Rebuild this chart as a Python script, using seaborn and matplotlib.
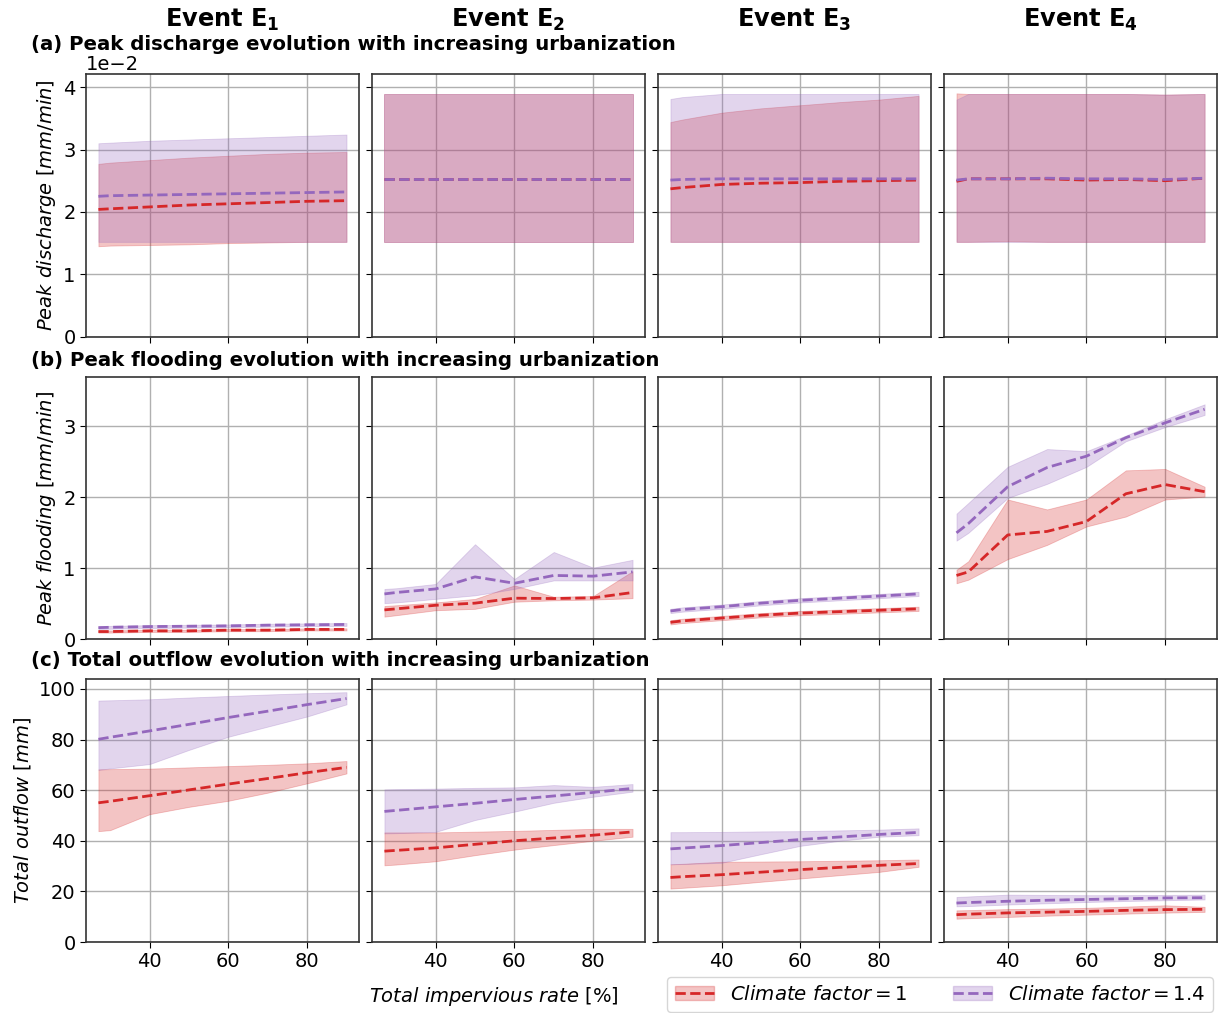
import numpy as np
import pandas as pd
import matplotlib
matplotlib.use("Agg")
import matplotlib.pyplot as plt
import seaborn as sns
from matplotlib.lines import Line2D
from matplotlib.patches import Patch

# ---------------------------------------------------------------------------
# Data: impervious rate [%] and, for each event (rows E1..E4), the lower bound,
# central value and upper bound of the scenario ensemble.
# ---------------------------------------------------------------------------
impervious = [27, 30, 40, 50, 60, 70, 80, 90]
events = ["E1", "E2", "E3", "E4"]
factor_labels = [r"$Climate\ factor = 1$", r"$Climate\ factor = 1.4$"]

# (a) Peak discharge [mm/min]
discharge_cf1_low = [
    [0.0145, 0.0146, 0.0147, 0.0148, 0.0150, 0.0151, 0.0152, 0.0152],
    [0.0152, 0.0152, 0.0152, 0.0152, 0.0152, 0.0152, 0.0152, 0.0152],
    [0.0152, 0.0152, 0.0152, 0.0152, 0.0152, 0.0152, 0.0152, 0.0152],
    [0.0152, 0.0152, 0.0153, 0.0152, 0.0152, 0.0152, 0.0152, 0.0152],
]
discharge_cf1_mid = [
    [0.0204, 0.0205, 0.0208, 0.0211, 0.0213, 0.0215, 0.0217, 0.0218],
    [0.0253, 0.0253, 0.0253, 0.0253, 0.0253, 0.0253, 0.0253, 0.0253],
    [0.0237, 0.0239, 0.0244, 0.0246, 0.0247, 0.0249, 0.0250, 0.0251],
    [0.0249, 0.0253, 0.0253, 0.0253, 0.0251, 0.0252, 0.0250, 0.0254],
]
discharge_cf1_high = [
    [0.0277, 0.0279, 0.0283, 0.0287, 0.0290, 0.0293, 0.0295, 0.0296],
    [0.0389, 0.0389, 0.0389, 0.0389, 0.0389, 0.0389, 0.0389, 0.0389],
    [0.0344, 0.0348, 0.0359, 0.0366, 0.0371, 0.0376, 0.0380, 0.0386],
    [0.0390, 0.0389, 0.0389, 0.0389, 0.0389, 0.0389, 0.0388, 0.0389],
]
discharge_cf14_low = [
    [0.0152, 0.0152, 0.0152, 0.0152, 0.0152, 0.0152, 0.0152, 0.0152],
    [0.0152, 0.0152, 0.0152, 0.0152, 0.0152, 0.0152, 0.0152, 0.0152],
    [0.0152, 0.0152, 0.0152, 0.0152, 0.0152, 0.0152, 0.0152, 0.0152],
    [0.0152, 0.0152, 0.0152, 0.0152, 0.0152, 0.0152, 0.0152, 0.0152],
]
discharge_cf14_mid = [
    [0.0225, 0.0226, 0.0227, 0.0228, 0.0229, 0.0230, 0.0231, 0.0232],
    [0.0253, 0.0253, 0.0253, 0.0253, 0.0253, 0.0253, 0.0253, 0.0253],
    [0.0251, 0.0252, 0.0253, 0.0253, 0.0253, 0.0253, 0.0253, 0.0253],
    [0.0251, 0.0253, 0.0253, 0.0254, 0.0253, 0.0253, 0.0252, 0.0254],
]
discharge_cf14_high = [
    [0.0310, 0.0311, 0.0314, 0.0316, 0.0318, 0.0320, 0.0322, 0.0324],
    [0.0389, 0.0389, 0.0389, 0.0389, 0.0389, 0.0389, 0.0389, 0.0389],
    [0.0381, 0.0384, 0.0389, 0.0389, 0.0389, 0.0389, 0.0389, 0.0389],
    [0.0380, 0.0389, 0.0389, 0.0389, 0.0389, 0.0389, 0.0388, 0.0389],
]

# (b) Peak flooding [mm/min]
flooding_cf1_low = [
    [0.095, 0.095, 0.105, 0.105, 0.115, 0.115, 0.125, 0.125],
    [0.32, 0.34, 0.41, 0.43, 0.53, 0.55, 0.56, 0.58],
    [0.21, 0.23, 0.27, 0.31, 0.34, 0.36, 0.38, 0.40],
    [0.79, 0.84, 1.13, 1.33, 1.59, 1.73, 1.97, 2.01],
]
flooding_cf1_mid = [
    [0.11, 0.11, 0.12, 0.12, 0.13, 0.13, 0.14, 0.14],
    [0.415, 0.43, 0.48, 0.51, 0.58, 0.575, 0.585, 0.66],
    [0.24, 0.26, 0.30, 0.34, 0.37, 0.39, 0.41, 0.43],
    [0.90, 0.95, 1.47, 1.52, 1.66, 2.05, 2.18, 2.08],
]
flooding_cf1_high = [
    [0.125, 0.125, 0.135, 0.135, 0.145, 0.145, 0.155, 0.155],
    [0.47, 0.48, 0.52, 0.57, 0.76, 0.60, 0.61, 0.96],
    [0.27, 0.29, 0.33, 0.37, 0.40, 0.42, 0.44, 0.46],
    [0.98, 1.10, 1.97, 1.83, 1.97, 2.38, 2.40, 2.15],
]
flooding_cf14_low = [
    [0.145, 0.15, 0.16, 0.165, 0.17, 0.18, 0.185, 0.19],
    [0.51, 0.52, 0.57, 0.62, 0.71, 0.83, 0.83, 0.83],
    [0.37, 0.39, 0.43, 0.48, 0.52, 0.55, 0.58, 0.61],
    [1.39, 1.50, 1.99, 2.19, 2.43, 2.79, 2.99, 3.16],
]
flooding_cf14_mid = [
    [0.165, 0.17, 0.18, 0.185, 0.19, 0.20, 0.205, 0.21],
    [0.64, 0.66, 0.71, 0.88, 0.79, 0.90, 0.89, 0.95],
    [0.40, 0.42, 0.46, 0.51, 0.55, 0.58, 0.61, 0.64],
    [1.50, 1.63, 2.15, 2.42, 2.58, 2.84, 3.05, 3.24],
]
flooding_cf14_high = [
    [0.185, 0.19, 0.20, 0.205, 0.21, 0.22, 0.225, 0.23],
    [0.71, 0.72, 0.78, 1.34, 0.85, 1.23, 1.01, 1.12],
    [0.43, 0.45, 0.49, 0.54, 0.58, 0.61, 0.64, 0.67],
    [1.77, 1.92, 2.43, 2.68, 2.65, 2.87, 3.10, 3.31],
]

# (c) Total outflow [mm]
outflow_cf1_low = [
    [43.8, 44.2, 50.5, 53.4, 55.8, 59.0, 62.7, 66.6],
    [30.3, 30.6, 31.9, 34.3, 36.5, 38.3, 40.0, 41.6],
    [21.1, 21.4, 22.4, 23.8, 25.1, 26.4, 27.7, 29.7],
    [9.2, 9.4, 9.9, 10.4, 10.8, 11.2, 11.6, 11.9],
]
outflow_cf1_mid = [
    [55.0, 55.6, 57.8, 60.1, 62.4, 64.6, 66.9, 69.0],
    [35.9, 36.2, 37.2, 38.6, 40.0, 41.1, 42.2, 43.5],
    [25.5, 25.8, 26.6, 27.6, 28.6, 29.5, 30.3, 31.0],
    [10.8, 11.0, 11.5, 11.8, 12.1, 12.5, 12.8, 12.9],
]
outflow_cf1_high = [
    [68.2, 68.3, 68.5, 69.0, 69.5, 70.0, 70.6, 71.5],
    [43.3, 43.3, 43.3, 43.6, 43.9, 44.3, 44.7, 44.7],
    [30.7, 30.9, 31.7, 31.8, 31.9, 32.1, 32.3, 32.6],
    [12.5, 12.6, 13.0, 13.2, 13.5, 14.0, 14.5, 13.9],
]
outflow_cf14_low = [
    [68.0, 68.6, 70.3, 75.9, 81.1, 85.1, 89.1, 93.9],
    [42.9, 43.0, 43.5, 48.2, 51.5, 55.0, 57.4, 59.4],
    [30.7, 30.8, 31.3, 34.7, 38.0, 40.0, 41.6, 42.2],
    [14.1, 14.2, 14.8, 15.3, 15.8, 16.2, 16.5, 16.8],
]
outflow_cf14_mid = [
    [80.1, 80.9, 83.4, 86.0, 88.7, 91.2, 93.8, 96.2],
    [51.6, 52.0, 53.4, 54.8, 56.3, 57.7, 59.1, 60.7],
    [36.8, 37.1, 38.1, 39.3, 40.5, 41.5, 42.5, 43.3],
    [15.4, 15.6, 16.1, 16.5, 16.8, 17.1, 17.4, 17.5],
]
outflow_cf14_high = [
    [95.4, 95.5, 95.9, 96.6, 97.2, 97.8, 98.3, 98.7],
    [60.3, 60.4, 60.6, 60.9, 61.1, 62.0, 61.3, 62.4],
    [43.4, 43.4, 43.5, 43.7, 43.8, 44.1, 44.4, 44.9],
    [17.8, 18.0, 18.7, 18.6, 18.5, 18.5, 18.6, 18.7],
]

row_titles = [
    "(a) Peak discharge evolution with increasing urbanization",
    "(b) Peak flooding evolution with increasing urbanization",
    "(c) Total outflow evolution with increasing urbanization",
]
row_ylabels = [
    r"$Peak\ discharge\ [mm/min]$",
    r"$Peak\ flooding\ [mm/min]$",
    r"$Total\ outflow\ [mm]$",
]
row_ylims = [(0, 0.0421), (0, 3.70), (0, 103.8)]
col_titles = [r"Event $\mathbf{E_1}$", r"Event $\mathbf{E_2}$",
              r"Event $\mathbf{E_3}$", r"Event $\mathbf{E_4}$"]

rows = [
    ((discharge_cf1_low, discharge_cf1_mid, discharge_cf1_high),
     (discharge_cf14_low, discharge_cf14_mid, discharge_cf14_high)),
    ((flooding_cf1_low, flooding_cf1_mid, flooding_cf1_high),
     (flooding_cf14_low, flooding_cf14_mid, flooding_cf14_high)),
    ((outflow_cf1_low, outflow_cf1_mid, outflow_cf1_high),
     (outflow_cf14_low, outflow_cf14_mid, outflow_cf14_high)),
]

RED = "#d62728"
PURPLE = "#9467bd"
palette = {factor_labels[0]: RED, factor_labels[1]: PURPLE}
BAND_ALPHA = 0.27


def long_table(series_by_factor, ev):
    """Three records per impervious rate (low/mid/high) so that the median is
    the central line and the 0-100 percentile interval spans the band."""
    recs = []
    for flabel, (lo, mid, hi) in zip(factor_labels, series_by_factor):
        for j, x in enumerate(impervious):
            for v in (lo[ev][j], mid[ev][j], hi[ev][j]):
                recs.append({"rate": x, "value": v, "factor": flabel})
    return pd.DataFrame(recs)


plt.rcParams.update({
    "font.family": "DejaVu Sans",
    "mathtext.fontset": "dejavusans",
    "axes.edgecolor": "#333333",
    "axes.linewidth": 1.2,
    "xtick.labelsize": 14,
    "ytick.labelsize": 14,
    "xtick.major.size": 4,
    "ytick.major.size": 4,
    "grid.color": "#b0b0b0",
    "grid.linewidth": 1.0,
})

W, H = 1218, 1013
fig, axes = plt.subplots(3, 4, figsize=(W / 100, H / 100), dpi=100,
                         sharex=True, sharey="row")
fig.subplots_adjust(left=86 / W, right=1217 / W, top=1 - 74 / H,
                    bottom=1 - 942 / H, wspace=0.048, hspace=0.152)

for r, series in enumerate(rows):
    for c in range(4):
        ax = axes[r, c]
        df = long_table(series, c)
        sns.lineplot(data=df, x="rate", y="value", hue="factor",
                     hue_order=factor_labels, palette=palette,
                     estimator="median", errorbar=("pi", 100),
                     err_kws={"alpha": BAND_ALPHA, "linewidth": 0.6},
                     linestyle="--", linewidth=2.0, legend=False, ax=ax)
        ax.set_xlabel("")
        ax.set_ylabel("")
        ax.grid(True)
        ax.set_axisbelow(True)
        ax.set_xlim(23.85, 93.15)
        ax.set_xticks([40, 60, 80])
        ax.set_ylim(*row_ylims[r])
    axes[r, 0].set_ylabel(row_ylabels[r], fontsize=14)

axes[0, 0].set_yticks([0, 0.01, 0.02, 0.03, 0.04])
axes[0, 0].ticklabel_format(axis="y", style="sci", scilimits=(0, 0))
axes[0, 0].yaxis.get_offset_text().set_fontsize(14)
axes[1, 0].set_yticks([0, 1, 2, 3])
axes[2, 0].set_yticks([0, 20, 40, 60, 80, 100])

# Column headers and row titles
col_centers = [(axes[0, c].get_position().x0 + axes[0, c].get_position().x1) / 2
               for c in range(4)]
for c, t in enumerate(col_titles):
    fig.text(col_centers[c], 1 - 20 / H, t, ha="center", va="center",
             fontsize=17.3, fontweight="bold")
for r, (t, yp) in enumerate(zip(row_titles, [44, 360, 661])):
    fig.text(31 / W, 1 - yp / H, t, ha="left", va="center",
             fontsize=14.2, fontweight="bold")

fig.text(494 / W, 1 - 996 / H, r"$Total\ impervious\ rate\ [\%]$",
         ha="center", va="center", fontsize=14)

# Legend: shaded band with the dashed line on top
handles = [
    (Patch(facecolor=RED, alpha=BAND_ALPHA, edgecolor=RED),
     Line2D([], [], color=RED, linestyle="--", linewidth=2.0)),
    (Patch(facecolor=PURPLE, alpha=BAND_ALPHA, edgecolor=PURPLE),
     Line2D([], [], color=PURPLE, linestyle="--", linewidth=2.0)),
]
fig.legend(handles, factor_labels, ncol=2, loc="upper left",
           bbox_to_anchor=(667 / W, 1 - 977 / H), fontsize=14.2,
           handlelength=2.0, columnspacing=2.3, frameon=True,
           borderaxespad=0.0)

fig.savefig("out.png", dpi=100)
